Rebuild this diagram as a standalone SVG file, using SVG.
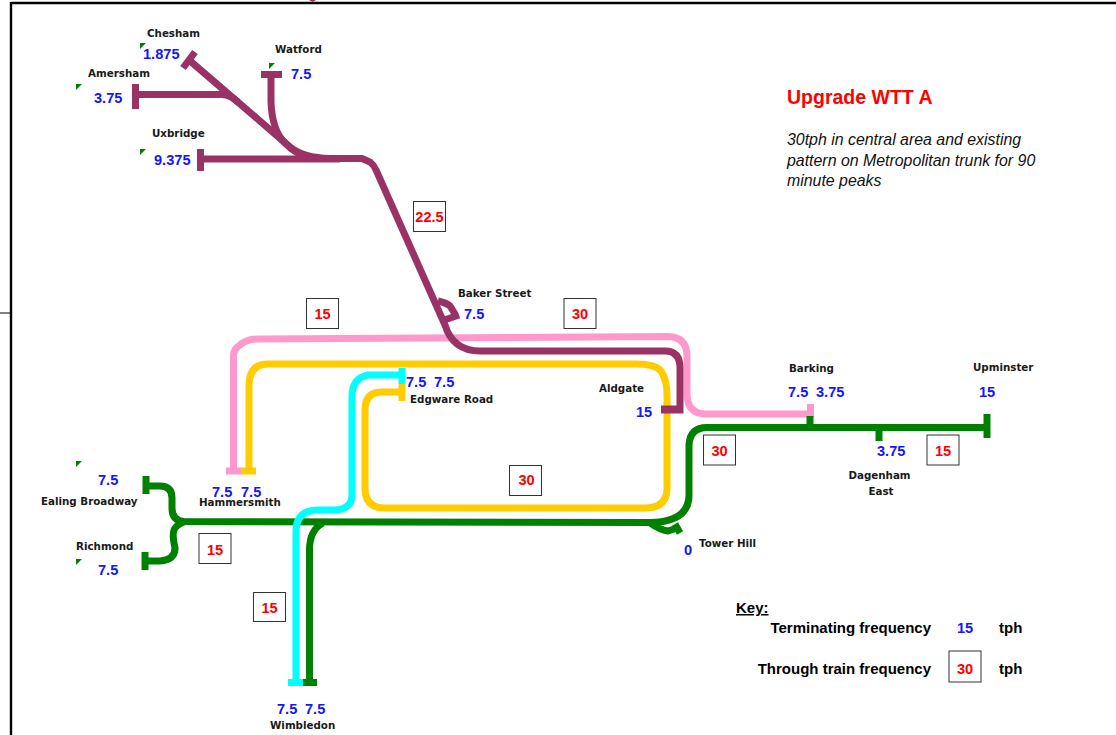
<svg xmlns="http://www.w3.org/2000/svg" width="1116" height="735" viewBox="0 0 1116 735">
<style>
text{font-family:"Liberation Sans",Arial,sans-serif}
.st{font-family:"DejaVu Sans",sans-serif;font-size:10.3px;font-weight:bold;fill:#1a1a1a}
.n{font-size:14.6px;font-weight:bold;fill:#1414ff}
.r{font-size:14.6px;font-weight:bold;fill:#ff0000;text-anchor:middle}
.k{font-size:15px;font-weight:bold;fill:#000}
.i{font-size:15.9px;font-style:italic;fill:#111}
.box{fill:#fff;stroke:#333;stroke-width:1}
.l{fill:none;stroke-width:7}
.c{fill:none;stroke-width:7}
.pu{stroke:#993366}.pk{stroke:#ff99cc}.ye{stroke:#ffcc00}.cy{stroke:#00ffff}.gr{stroke:#008000}
.tri{fill:#008000}
</style>
<rect width="1116" height="735" fill="#fff"/>
<g id="frame" fill="none" stroke="#000">
<path d="M11 3H1116M11 2V735" stroke-width="2.4"/>
<path d="M0 313H11" stroke-width="1"/>
<path d="M309 0H316L312.500 2Z" fill="#993366" stroke="none"/>
</g>
<g id="connectors">
<path class="l pk" d="M233.500 471V356Q233.500 349 240 345Q247 339 258 339L668 336.500Q687 337 687 356V393Q687 414 706 414H808"/>
<path class="l ye" d="M249 471V386Q249 364 268 364H636Q655 364 661 371Q667 380 667 395V488Q667 508 645 508H385Q365 508 365 488V410Q365 392 382 392H402"/>
<path class="l pu" d="M189 60L290 147Q303 158 330 158.500H362L370 162Q374 165 376 170L445 325Q453 351 480 351H665Q680 351 680 368V410H661"/>
<path class="l pu" d="M135 94.500H222Q230 95 238 102"/>
<path class="l pu" d="M271 74V102Q272 130 285 143Q295 154 310 158"/>
<path class="l pu" d="M201 159H340"/>
<path class="l pu" d="M438 301Q447 303 450 306L455 314"/>
<path class="l gr" d="M146 486H160Q172 486 172 498V508Q172 521 184 521.500L650 522.500Q689 522 689 495V445Q690 427 708 427.500H987"/>
<path class="l gr" d="M145 561H160Q175 560 175 548Q172 535 174 530Q176 525 184 522"/>
<path class="l cy" d="M402 375H368Q352 378 352 397V495Q352 509 335 510H318Q296 510 296 532V682"/>
<path class="l gr" d="M309.500 682V550Q309.500 530 323 523"/>
<path class="l gr" d="M650 523Q660 530 668 531L677 528"/>
<path class="c pk" d="M226 471H241"/>
<path class="c ye" d="M241 471H256"/>
<path class="c cy" d="M288 682.500H303"/>
<path class="c gr" d="M303 682.500H317"/>
<path class="c cy" d="M402 368V384"/>
<path class="c ye" d="M402 384V401"/>
<path class="c pu" d="M195 52L183 68"/>
<path class="c pu" d="M135.500 84V109"/>
<path class="c pu" d="M261 74.500H282"/>
<path class="c pu" d="M200.500 149V171"/>
<path class="c pu" d="M459 315L443 320.500"/>
<path class="c pu" d="M661 409H680"/>
<path class="c pk" d="M810.500 404V417"/>
<path class="c gr" d="M810 416V428"/>
<path class="c gr" d="M879 427V441"/>
<path class="c gr" d="M987 414V438"/>
<path class="c gr" d="M675 524L680 533"/>
<path class="c gr" d="M146 476V494"/>
<path class="c gr" d="M145 552V570"/>
</g>
<g id="title">
<text x="787" y="104" font-size="19.500" font-weight="bold" fill="#ff0000">Upgrade WTT A</text>
<text class="i" x="787" y="144.500">30tph in central area and existing</text>
<text class="i" x="787" y="165.500">pattern on Metropolitan trunk for 90</text>
<text class="i" x="787" y="185.500">minute peaks</text>
</g>
<g id="chesham"><path class="tri" d="M140 43H146L140 49Z"/><text class="st" x="147" y="37">Chesham</text><text class="n" x="143" y="59">1.875</text></g>
<g id="watford"><path class="tri" d="M269 63H275L269 69Z"/><text class="st" x="275" y="53">Watford</text><text class="n" x="291" y="79">7.5</text></g>
<g id="amersham"><path class="tri" d="M76 84H82L76 90Z"/><text class="st" x="88" y="77">Amersham</text><text class="n" x="94" y="103">3.75</text></g>
<g id="uxbridge"><path class="tri" d="M140 149H146L140 155Z"/><text class="st" x="152" y="137">Uxbridge</text><text class="n" x="154" y="165">9.375</text></g>
<g id="baker-street"><text class="st" x="458" y="297">Baker Street</text><text class="n" x="464" y="319">7.5</text></g>
<g id="aldgate"><text class="st" x="599" y="392">Aldgate</text><text class="n" x="636" y="417">15</text></g>
<g id="edgware-road"><text class="st" x="410" y="403">Edgware Road</text><text class="n" x="406" y="387">7.5</text><text class="n" x="434" y="387">7.5</text></g>
<g id="hammersmith"><text class="st" x="199" y="506">Hammersmith</text><text class="n" x="212" y="497">7.5</text><text class="n" x="241" y="497">7.5</text></g>
<g id="ealing-broadway"><path class="tri" d="M76 461H82L76 467Z"/><text class="st" x="41" y="505">Ealing Broadway</text><text class="n" x="98" y="485">7.5</text></g>
<g id="richmond"><path class="tri" d="M76 559H82L76 565Z"/><text class="st" x="76" y="550">Richmond</text><text class="n" x="98" y="575">7.5</text></g>
<g id="wimbledon"><text class="st" x="270" y="729">Wimbledon</text><text class="n" x="277" y="714">7.5</text><text class="n" x="305" y="714">7.5</text></g>
<g id="barking"><text class="st" x="789" y="372">Barking</text><text class="n" x="788" y="397">7.5</text><text class="n" x="816" y="397">3.75</text></g>
<g id="upminster"><text class="st" x="973" y="371">Upminster</text><text class="n" x="979" y="397">15</text></g>
<g id="dagenham-east"><text class="st" x="879.500" y="479" text-anchor="middle">Dagenham</text><text class="st" x="881" y="495" text-anchor="middle">East</text><text class="n" x="877" y="456">3.75</text></g>
<g id="tower-hill"><text class="st" x="699" y="547">Tower Hill</text><text class="n" x="684" y="555">0</text></g>
<g id="freq-22-5"><rect class="box" x="413.500" y="201.500" width="32" height="30"/><text class="r" x="429.500" y="222">22.5</text></g>
<g id="freq-15-a"><rect class="box" x="306.500" y="298.500" width="32" height="30"/><text class="r" x="322.500" y="319">15</text></g>
<g id="freq-30-a"><rect class="box" x="564" y="298.500" width="32" height="30"/><text class="r" x="580" y="319">30</text></g>
<g id="freq-30-b"><rect class="box" x="509.500" y="465.500" width="32" height="30"/><text class="r" x="526.500" y="485">30</text></g>
<g id="freq-30-c"><rect class="box" x="703.500" y="435" width="32" height="30"/><text class="r" x="719.500" y="456">30</text></g>
<g id="freq-15-b"><rect class="box" x="927" y="435" width="32" height="30"/><text class="r" x="943" y="456">15</text></g>
<g id="freq-15-c"><rect class="box" x="199" y="533.500" width="32" height="30"/><text class="r" x="215" y="555">15</text></g>
<g id="freq-15-d"><rect class="box" x="253.500" y="592.500" width="32" height="29"/><text class="r" x="269.500" y="613">15</text></g>
<g id="key">
<text class="k" x="736" y="613" text-decoration="underline">Key:</text>
<text class="k" x="931" y="633" text-anchor="end">Terminating frequency</text>
<text class="n" x="957" y="633">15</text>
<text class="k" x="999" y="633">tph</text>
<text class="k" x="931" y="674" text-anchor="end">Through train frequency</text>
<rect class="box" x="949" y="651" width="32" height="31"/>
<text class="r" x="965" y="674">30</text>
<text class="k" x="999" y="674">tph</text>
</g>
</svg>
